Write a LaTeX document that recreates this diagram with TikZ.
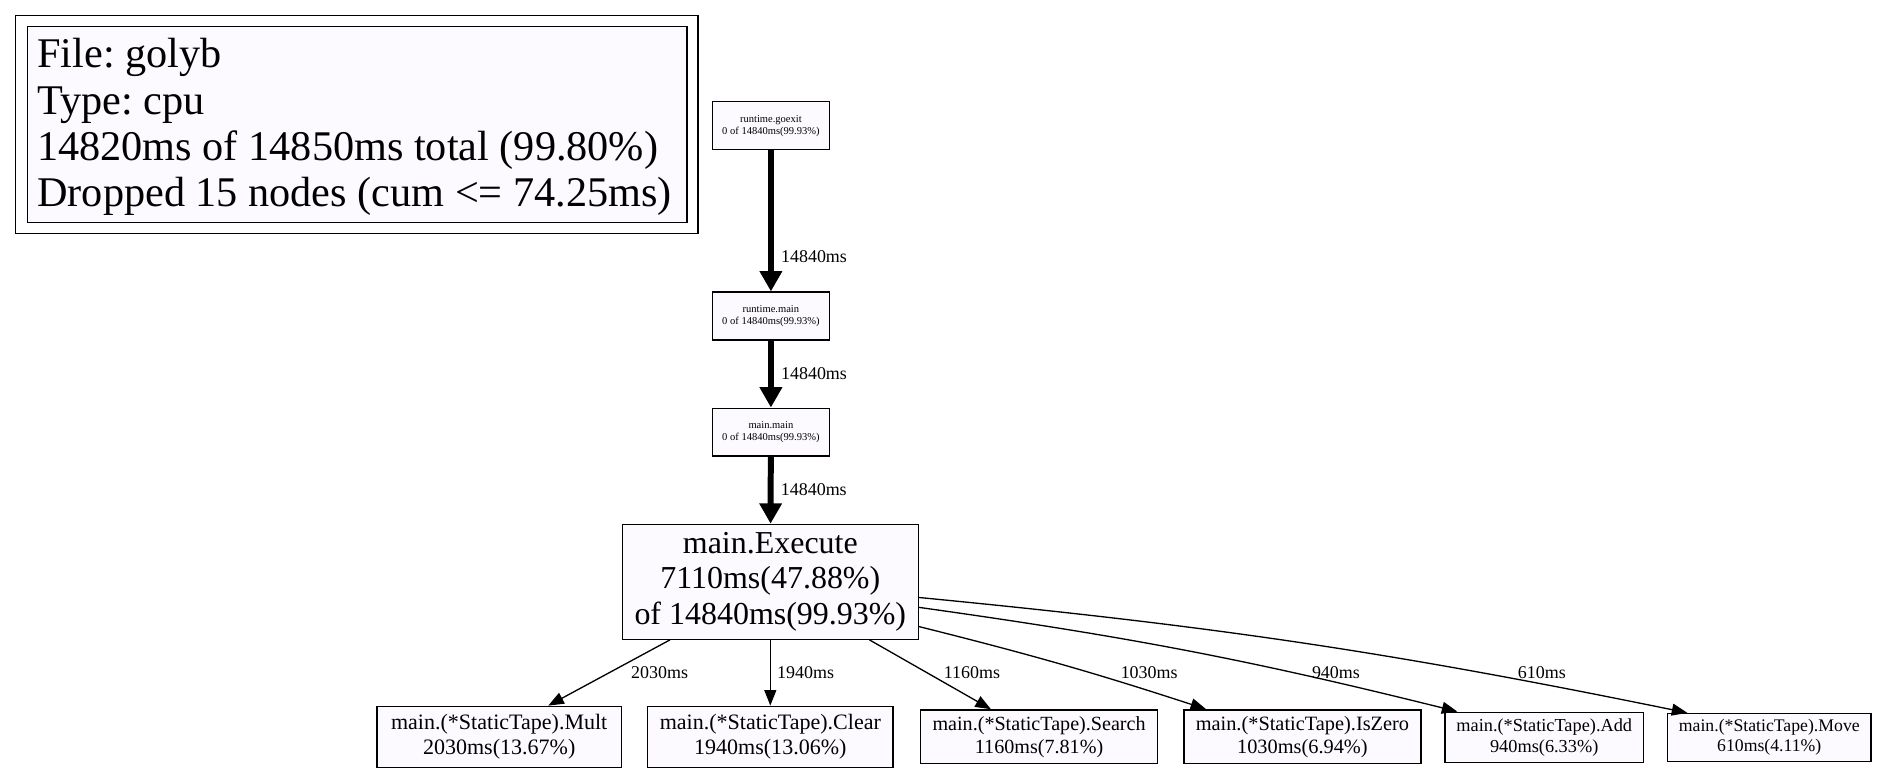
\documentclass[tikz,border=0pt]{standalone}
\usepackage{fontspec}
\setmainfont{Liberation Serif}
\usetikzlibrary{arrows.meta,calc}
\definecolor{nodefill}{HTML}{FCFAFF}
\frenchspacing
\begin{document}
\begin{tikzpicture}[x=1pt,y=-1pt,
  box/.style={draw=black, line width=1.1pt, fill=nodefill, rectangle, inner sep=0pt, align=center},
  tinybox/.style={box, font=\fontsize{8.8}{10}\selectfont, minimum width=98pt, minimum height=40pt},
  heavy/.style={line width=5pt, -{Triangle[length=17pt,width=18pt]}},
  light/.style={line width=1.1pt, -{Triangle[length=13pt,width=10pt]}},
  lbl/.style={font=\fontsize{15}{18}\selectfont, inner sep=0pt}]
\useasboundingbox[fill=white] (0,0) rectangle (1568,645.7);
% legend
\node[draw=black, line width=1.1pt, fill=white, minimum width=570pt, minimum height=182pt, inner sep=0pt] (legendframe) at (298,104) {};
\node[box, minimum width=551pt, minimum height=164pt] (legend) at (298.5,104) {};
\node[anchor=west, align=left, inner sep=0pt, font=\fontsize{35.3}{38.5}\selectfont] (legendtext) at (31,106) {File: golyb\\Type: cpu\\14820ms of 14850ms total (99.80\%)\\Dropped 15 nodes (cum <= 74.25ms)};
% chain
\node[tinybox] (goexit) at (644,105) {runtime.goexit\\0 of 14840ms(99.93\%)};
\node[tinybox] (rtmain) at (644,264) {runtime.main\\0 of 14840ms(99.93\%)};
\node[tinybox] (mainmain) at (644,361) {main.main\\0 of 14840ms(99.93\%)};
\node[box, minimum width=247pt, minimum height=96pt, font=\fontsize{26.7}{30}\selectfont] (exec) at (643.5,486) {main.Execute\\7110ms(47.88\%)\\of 14840ms(99.93\%)};
% bottom row
\node[box, minimum width=204pt, minimum height=51pt, font=\fontsize{18.4}{21}\selectfont] (mult) at (417,615.5) {main.(*StaticTape).Mult\\2030ms(13.67\%)};
\node[box, minimum width=205pt, minimum height=51pt, font=\fontsize{18.4}{21}\selectfont] (clear) at (643.5,615.5) {main.(*StaticTape).Clear\\1940ms(13.06\%)};
\node[box, minimum width=198pt, minimum height=45pt, font=\fontsize{16.8}{19}\selectfont] (search) at (868,615.5) {main.(*StaticTape).Search\\1160ms(7.81\%)};
\node[box, minimum width=198pt, minimum height=45pt, font=\fontsize{17}{19}\selectfont] (iszero) at (1088,615.5) {main.(*StaticTape).IsZero\\1030ms(6.94\%)};
\node[box, minimum width=166pt, minimum height=42pt, font=\fontsize{15.3}{18}\selectfont] (add) at (1290,616) {main.(*StaticTape).Add\\940ms(6.33\%)};
\node[box, minimum width=170pt, minimum height=40pt, font=\fontsize{14.8}{17}\selectfont] (move) at (1478,616) {main.(*StaticTape).Move\\610ms(4.11\%)};
% heavy edges
\draw[heavy] (goexit) -- node[lbl, pos=0.756, right=6pt] (l1) {14840ms} (rtmain);
\draw[heavy] (rtmain) -- node[lbl, pos=0.49, right=6pt] (l2) {14840ms} (mainmain);
\draw[heavy] (mainmain) -- node[lbl, pos=0.49, right=6pt] (l3) {14840ms} (exec);
% light edges
\draw[light] ($(exec.south west)!0.162!(exec.south east)$) -- ($(mult.north west)!0.70!(mult.north east)$);
\draw[light] (exec.south) -- (clear.north);
\draw[light] ($(exec.south west)!0.834!(exec.south east)$) -- ($(search.north west)!0.298!(search.north east)$);
\draw[light] ($(exec.north east)!0.885!(exec.south east)$) to[bend left=2] ($(iszero.north west)!0.096!(iszero.north east)$);
\draw[light] ($(exec.north east)!0.72!(exec.south east)$) to[bend left=3] ($(add.north west)!0.066!(add.north east)$);
\draw[light] ($(exec.north east)!0.635!(exec.south east)$) to[bend left=3] ($(move.north west)!0.1!(move.north east)$);
\node[lbl] (l4) at (551,562) {2030ms};
\node[lbl] (l5) at (673,562) {1940ms};
\node[lbl] (l6) at (812,562) {1160ms};
\node[lbl] (l7) at (960,562) {1030ms};
\node[lbl] (l8) at (1116,562) {940ms};
\node[lbl] (l9) at (1288,562) {610ms};
\end{tikzpicture}
\end{document}
